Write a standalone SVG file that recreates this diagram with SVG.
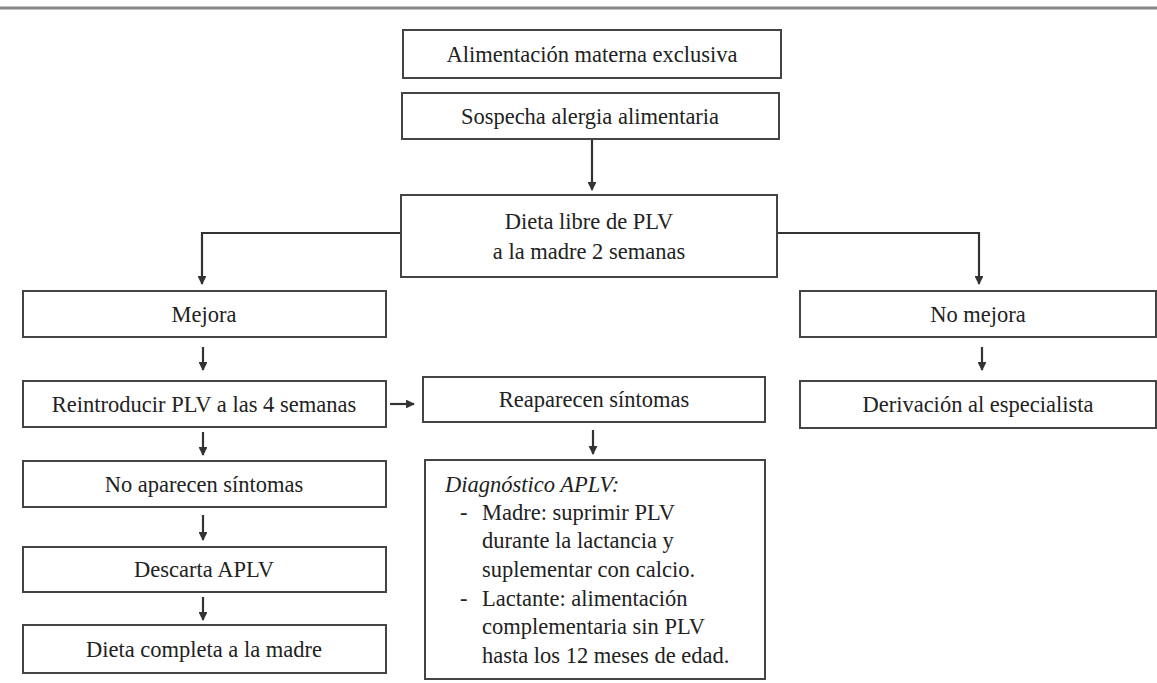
<svg xmlns="http://www.w3.org/2000/svg" width="1157" height="683" viewBox="0 0 1157 683">
<defs>
<marker id="ah" viewBox="0 0 10 10" refX="9" refY="5" markerWidth="4" markerHeight="4" orient="auto" markerUnits="strokeWidth">
<path d="M0,0 L10,5 L0,10 Z" fill="#333"/>
</marker>
<style>
.box{fill:#fff;stroke:#444;stroke-width:2}
.t{font-family:"Liberation Serif","Times New Roman",serif;font-size:22.5px;fill:#222;text-anchor:middle}
.l{font-family:"Liberation Serif","Times New Roman",serif;font-size:22.5px;fill:#222}
.c{fill:none;stroke:#333;stroke-width:2.2;marker-end:url(#ah)}
</style>
</defs>
<rect width="1157" height="683" fill="#fff"/>
<line x1="0" y1="8" x2="1157" y2="8" stroke="#888" stroke-width="3"/>
<g id="connectors">
<line class="c" x1="592" y1="139" x2="592" y2="190"/>
<path class="c" d="M401,233 H202 V284"/>
<path class="c" d="M777,233 H979 V284"/>
<line class="c" x1="203" y1="347" x2="203" y2="370"/>
<line class="c" x1="203" y1="432" x2="203" y2="455"/>
<line class="c" x1="203" y1="515" x2="203" y2="540"/>
<line class="c" x1="203" y1="597" x2="203" y2="620"/>
<line class="c" x1="390" y1="404" x2="414" y2="404"/>
<line class="c" x1="593" y1="430" x2="593" y2="454"/>
<line class="c" x1="982" y1="347" x2="982" y2="370"/>
</g>
<g id="n1"><rect class="box" x="403" y="30" width="378" height="48"/><text class="t" x="592" y="62">Alimentación materna exclusiva</text></g>
<g id="n2"><rect class="box" x="402" y="93" width="377" height="46"/><text class="t" x="590" y="124">Sospecha alergia alimentaria</text></g>
<g id="n3"><rect class="box" x="401" y="195" width="376" height="82"/><text class="t" x="589" y="229">Dieta libre de PLV</text><text class="t" x="589" y="259">a la madre 2 semanas</text></g>
<g id="n4"><rect class="box" x="23" y="291" width="363" height="46"/><text class="t" x="204" y="322">Mejora</text></g>
<g id="n5"><rect class="box" x="23" y="381" width="363" height="46"/><text class="t" x="204" y="412">Reintroducir PLV a las 4 semanas</text></g>
<g id="n6"><rect class="box" x="23" y="461" width="363" height="46"/><text class="t" x="204" y="492">No aparecen síntomas</text></g>
<g id="n7"><rect class="box" x="23" y="547" width="363" height="45"/><text class="t" x="204" y="577">Descarta APLV</text></g>
<g id="n8"><rect class="box" x="23" y="625" width="363" height="48"/><text class="t" x="204" y="657">Dieta completa a la madre</text></g>
<g id="n9"><rect class="box" x="423" y="377" width="342" height="45"/><text class="t" x="594" y="407">Reaparecen síntomas</text></g>
<g id="n10"><rect class="box" x="425" y="460" width="340" height="219"/>
<text class="l" x="445" y="492" font-style="italic">Diagnóstico APLV:</text>
<text class="l" x="460" y="520">-</text><text class="l" x="482" y="520">Madre: suprimir PLV</text>
<text class="l" x="482" y="548">durante la lactancia y</text>
<text class="l" x="482" y="577">suplementar con calcio.</text>
<text class="l" x="460" y="606">-</text><text class="l" x="482" y="606">Lactante: alimentación</text>
<text class="l" x="482" y="634">complementaria sin PLV</text>
<text class="l" x="482" y="663">hasta los 12 meses de edad.</text>
</g>
<g id="n11"><rect class="box" x="800" y="291" width="356" height="46"/><text class="t" x="978" y="322">No mejora</text></g>
<g id="n12"><rect class="box" x="800" y="381" width="356" height="47"/><text class="t" x="978" y="412">Derivación al especialista</text></g>
</svg>
